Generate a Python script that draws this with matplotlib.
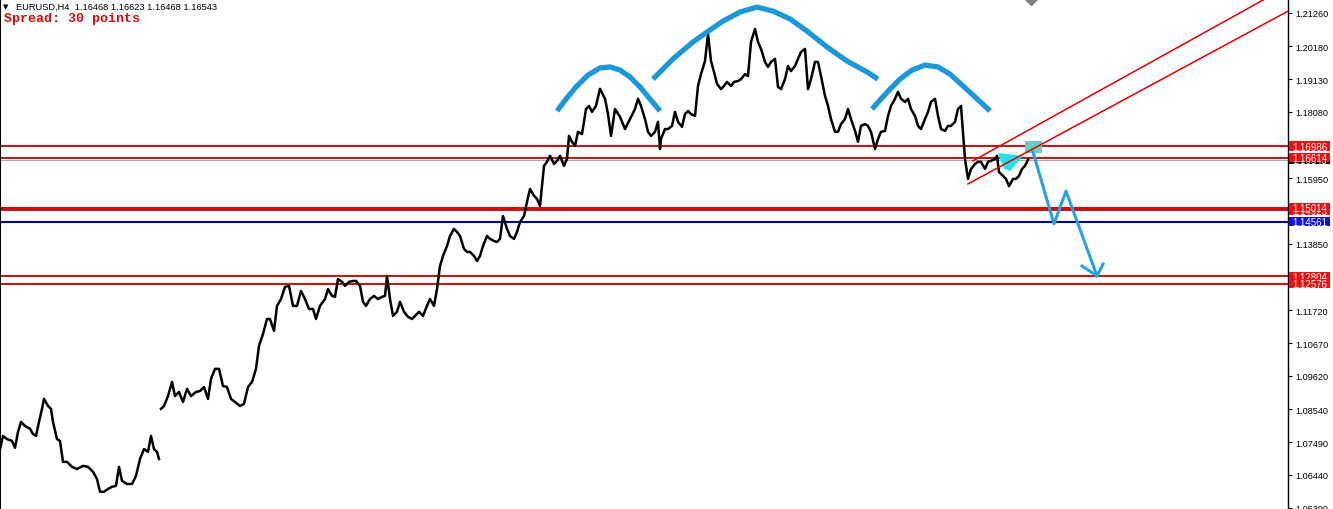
import matplotlib.pyplot as plt
from matplotlib.patches import Rectangle, Polygon
import numpy as np

# EURUSD H4 - closes (x = bar index, ~1 bar per pixel)
early_bars = [0, 3, 7, 12, 15, 18, 21, 25, 30, 33,
              36, 39, 42, 44, 48, 51, 53, 57, 60, 63,
              67, 72, 77, 83, 88, 93, 97, 100, 104, 108,
              112, 116, 119, 122, 127, 132, 136, 140, 144, 148,
              151, 154, 157, 159]
early_close = [1.0727, 1.0769, 1.0759, 1.0753, 1.0731, 1.0782, 1.0814, 1.0801, 1.0792, 1.0775,
               1.0769, 1.0814, 1.0856, 1.0888, 1.0865, 1.0856, 1.0814, 1.0759, 1.0753, 1.0686,
               1.0686, 1.0670, 1.0663, 1.0673, 1.0670, 1.0654, 1.0631, 1.0590, 1.0590, 1.0599,
               1.0606, 1.0609, 1.0670, 1.0625, 1.0615, 1.0615, 1.0641, 1.0695, 1.0727, 1.0718,
               1.0769, 1.0727, 1.0718, 1.0695]

bars = [161, 164, 168, 172, 175, 179, 183, 187, 191, 196,
        200, 204, 208, 211, 215, 219, 223, 227, 231, 235,
        240, 244, 248, 252, 256, 259, 263, 267, 270, 274,
        277, 281, 285, 289, 293, 297, 301, 305, 309, 313,
        316, 320, 325, 328, 332, 335, 338, 342, 345, 349,
        353, 356, 360, 363, 366, 370, 374, 378, 382, 385,
        387, 390, 393, 397, 400, 404, 408, 412, 415, 419,
        423, 427, 430, 434, 437, 440, 443, 447, 450, 454,
        457, 460, 464, 467, 470, 474, 477, 480, 483, 487,
        490, 494, 497, 500, 503, 507, 510, 514, 517, 520,
        524, 527, 530, 534, 537, 540, 542, 544, 547, 550,
        554, 557, 560, 564, 567, 569, 572, 575, 578, 582,
        586, 589, 592, 596, 600, 605, 608, 611, 615, 620,
        625, 630, 635, 638, 641, 645, 648, 651, 655, 658,
        660, 661, 665, 668, 672, 675, 678, 682, 685, 688,
        691, 695, 698, 701, 705, 708, 711, 714, 717, 721,
        724, 727, 731, 734, 738, 741, 745, 748, 751, 755,
        758, 761, 765, 768, 771, 775, 778, 781, 785, 788,
        791, 795, 798, 801, 805, 808, 811, 815, 818, 821,
        825, 828, 831, 835, 838, 841, 845, 848, 851, 855,
        858, 861, 865, 868, 871, 875, 878, 881, 885, 888,
        891, 895, 898, 901, 905, 908, 911, 915, 918, 921,
        925, 928, 931, 935, 938, 941, 945, 948, 951, 955,
        958, 961, 963, 965, 968, 971, 975, 978, 981, 985,
        988, 991, 995, 997, 999, 1003, 1006, 1009, 1013, 1016,
        1019, 1022, 1025, 1028]
close = [1.0856, 1.0865, 1.0897, 1.0942, 1.0897, 1.0910, 1.0878, 1.0920, 1.0897, 1.0910,
         1.0913, 1.0926, 1.0888, 1.0952, 1.0984, 1.0984, 1.0929, 1.0926, 1.0888, 1.0878,
         1.0865, 1.0872, 1.0926, 1.0942, 1.0984, 1.1058, 1.1096, 1.1144, 1.1144, 1.1106,
         1.1186, 1.1208, 1.1247, 1.1250, 1.1186, 1.1186, 1.1234, 1.1208, 1.1176, 1.1176,
         1.1144, 1.1186, 1.1208, 1.1240, 1.1218, 1.1215, 1.1272, 1.1263, 1.1250, 1.1263,
         1.1266, 1.1266, 1.1250, 1.1199, 1.1186, 1.1208, 1.1218, 1.1208, 1.1215, 1.1218,
         1.1282, 1.1208, 1.1154, 1.1167, 1.1199, 1.1167, 1.1151, 1.1144, 1.1154, 1.1167,
         1.1154, 1.1186, 1.1208, 1.1186, 1.1240, 1.1314, 1.1346, 1.1378, 1.1410, 1.1433,
         1.1423, 1.1410, 1.1369, 1.1359, 1.1359, 1.1346, 1.1330, 1.1346, 1.1378, 1.1410,
         1.1401, 1.1394, 1.1391, 1.1401, 1.1474, 1.1433, 1.1410, 1.1401, 1.1423, 1.1455,
         1.1474, 1.1519, 1.1561, 1.1539, 1.1529, 1.1506, 1.1571, 1.1635, 1.1648, 1.1667,
         1.1641, 1.1651, 1.1667, 1.1635, 1.1657, 1.1731, 1.1712, 1.1699, 1.1744, 1.1737,
         1.1817, 1.1827, 1.1808, 1.1827, 1.1882, 1.1850, 1.1801, 1.1731, 1.1817, 1.1792,
         1.1753, 1.1785, 1.1817, 1.1850, 1.1827, 1.1785, 1.1744, 1.1731, 1.1744, 1.1776,
         1.1689, 1.1721, 1.1753, 1.1753, 1.1763, 1.1808, 1.1776, 1.1760, 1.1801, 1.1811,
         1.1801, 1.1795, 1.1891, 1.1929, 1.1971, 1.2058, 1.1971, 1.1936, 1.1898, 1.1881,
         1.1891, 1.1904, 1.1891, 1.1904, 1.1907, 1.1913, 1.1929, 1.1923, 1.2032, 1.2074,
         1.2032, 1.2010, 1.1968, 1.1952, 1.1968, 1.1978, 1.1888, 1.1881, 1.1913, 1.1955,
         1.1939, 1.1955, 1.1978, 1.2000, 1.2010, 1.1881, 1.1913, 1.1968, 1.1968, 1.1923,
         1.1859, 1.1827, 1.1785, 1.1744, 1.1744, 1.1769, 1.1785, 1.1817, 1.1785, 1.1747,
         1.1712, 1.1763, 1.1769, 1.1763, 1.1744, 1.1689, 1.1721, 1.1744, 1.1747, 1.1795,
         1.1827, 1.1850, 1.1872, 1.1850, 1.1840, 1.1850, 1.1817, 1.1795, 1.1763, 1.1753,
         1.1785, 1.1808, 1.1840, 1.1850, 1.1795, 1.1753, 1.1747, 1.1763, 1.1763, 1.1776,
         1.1817, 1.1827, 1.1744, 1.1657, 1.1593, 1.1625, 1.1641, 1.1648, 1.1648, 1.1625,
         1.1648, 1.1651, 1.1657, 1.1667, 1.1615, 1.1603, 1.1593, 1.1570, 1.1593, 1.1593,
         1.1603, 1.1625, 1.1635, 1.16543]

# horizontal levels
dark_levels = [1.16986, 1.16614, 1.14925, 1.12804, 1.12576]
bright_level = 1.15014
blue_level = 1.14561
bid = 1.16543

# right price scale
tick_values = [1.21260, 1.20180, 1.19130, 1.18080, 1.15950, 1.13850, 1.11720,
               1.10670, 1.09620, 1.08540, 1.07490, 1.06440, 1.05390]

# head & shoulders arcs (bar, price)
left_sh_x = [557, 566, 576, 588, 600, 610, 620, 630, 640, 650, 660]
left_sh_y = [1.1811, 1.1849, 1.1888, 1.1926, 1.1949, 1.1952, 1.1942, 1.1920, 1.1888, 1.1849, 1.1811]
head_x = [653, 673, 693, 707, 723, 740, 757, 773, 790, 807, 827, 847, 867, 878]
head_y = [1.1913, 1.1978, 1.2032, 1.2064, 1.2099, 1.2128, 1.2144, 1.2131, 1.2106, 1.2067,
          1.2016, 1.1971, 1.1936, 1.1913]
right_sh_x = [872, 880, 890, 900, 912, 925, 938, 950, 962, 975, 990]
right_sh_y = [1.1817, 1.1846, 1.1881, 1.1913, 1.1942, 1.1958, 1.1952, 1.1929, 1.1894, 1.1856, 1.1811]

# rising channel
upper_x, upper_y = [973, 1265], [1.1651, 1.2170]
lower_x, lower_y = [968, 1288], [1.1577, 1.2131]

# projected move
zig_x = [1033, 1054, 1066, 1097]
zig_y = [1.1679, 1.1449, 1.1554, 1.1282]
head_wing_x = [1082, 1097, 1103]
head_wing_y = [1.1314, 1.1282, 1.1320]

tri_x = [998, 1004, 1010, 1023]
tri_y = [1.1676, 1.1626, 1.1618, 1.1667]
box_x = [1025, 1042]
box_y = [1.1676, 1.1715]
marker_x, marker_y = 1031, 1.2173

W, H = 1333, 510
fig = plt.figure(figsize=(W / 100, H / 100), dpi=100)
ax = fig.add_axes([0, 0, 1288 / W, 1])
ax.set_xlim(0, 1288)
ax.set_ylim(1.05348, 1.21699)
px = (1.21699 - 1.05348) / H

for s in ['top', 'bottom']:
    ax.spines[s].set_visible(False)
ax.spines['left'].set_linewidth(1.5)
ax.spines['right'].set_linewidth(1.0)
ax.set_xticks([])
ax.yaxis.tick_right()
ax.set_yticks(tick_values)
ax.set_yticklabels([f'{v:.5f}' for v in tick_values])
ax.tick_params(axis='y', direction='out', length=3, width=0.8, pad=2.5,
               labelsize=6.6, labelfontfamily='Liberation Sans')

# levels
for lv in dark_levels:
    ax.axhline(lv, color='#b81c1c', lw=1.5, zorder=2)
ax.axhline(bright_level, color='#e00000', lw=1.5, zorder=2)
ax.axhline(blue_level, color='#00009a', lw=1.5, zorder=2)
ax.axhline(bid, color='#a8a8a8', lw=0.8, zorder=2)

# price path
ax.plot(early_bars, early_close, color='black', lw=1.8, zorder=4)
ax.plot(bars, close, color='black', lw=1.8, zorder=4)

# pattern drawings
ax.add_patch(Polygon(list(zip(tri_x, tri_y)), closed=True, facecolor='#22e0f0',
                     edgecolor='none', zorder=3))
ax.add_patch(Rectangle((box_x[0], box_y[0]), box_x[1] - box_x[0], box_y[1] - box_y[0],
                       facecolor='#66cfc4', edgecolor='none', zorder=5))
for xs, ys in [(left_sh_x, left_sh_y), (head_x, head_y), (right_sh_x, right_sh_y)]:
    ax.plot(xs, ys, color='#1c98d8', lw=3.8, solid_joinstyle='round',
            solid_capstyle='butt', zorder=5)
ax.plot(upper_x, upper_y, color='#e00000', lw=1.1, zorder=5)
ax.plot(lower_x, lower_y, color='#e00000', lw=1.1, zorder=5)
ax.plot(zig_x, zig_y, color='#2aa0dc', lw=2.2, zorder=6)
ax.plot(head_wing_x, head_wing_y, color='#2aa0dc', lw=2.2, zorder=6)
ax.plot([marker_x], [marker_y], marker='D', markersize=7, color='#808080', zorder=6)

# price labels on the scale, each one drawn above the previous
lab_tr = ax.get_yaxis_transform()
x0, x1 = 1289 / 1288, 1330 / 1288
labels = [(bid, 'black'), (1.14925, '#ee1010'), (1.16986, '#ee1010'),
          (1.16614, '#ee1010'), (bright_level, '#ee1010'), (blue_level, '#1010e6'),
          (1.12804, '#ee1010'), (1.12576, '#ee1010')]
for i, (price, color) in enumerate(labels):
    z = 10 + 2 * i
    ax.add_patch(Rectangle((x0, price - 4.6 * px), x1 - x0, 9.2 * px, transform=lab_tr,
                           facecolor=color, edgecolor='none', clip_on=False, zorder=z))
    ax.text((x0 + x1) / 2, price + 0.5 * px, f'{price:.5f}', transform=lab_tr, color='white',
            fontsize=7, family='Liberation Sans', ha='center', va='center_baseline',
            clip_on=False, zorder=z + 1)

# header
fig.text(3 / W, 1 - 7 / H, '▼', fontsize=5, family='DejaVu Sans', va='center')
fig.text(16 / W, 1 - 7 / H, 'EURUSD,H4  1.16468 1.16623 1.16468 1.16543',
         fontsize=6.7, family='Liberation Sans', va='center')
fig.text(4 / W, 1 - 19 / H, 'Spread: 30 points', fontsize=9.6, family='Liberation Mono',
         weight='bold', color='#d01010', va='center')

fig.savefig('out.png', dpi=100)
